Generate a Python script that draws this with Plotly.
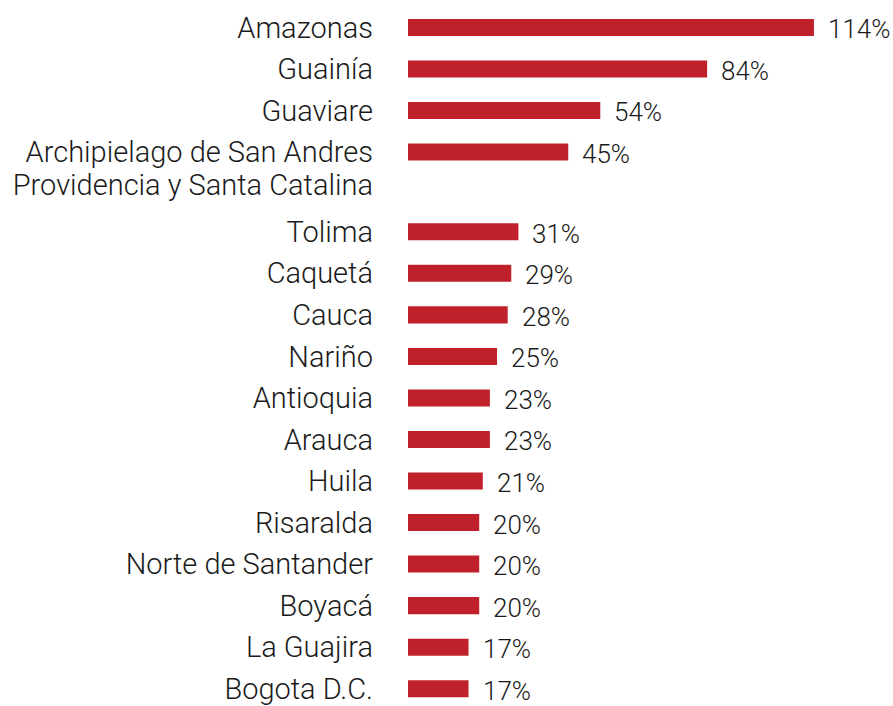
import plotly.graph_objects as go

categories = ["Amazonas", "Guainía", "Guaviare",
              "Archipielago de San Andres<br>Providencia y Santa Catalina",
              "Tolima", "Caquetá", "Cauca", "Nariño", "Antioquia", "Arauca",
              "Huila", "Risaralda", "Norte de Santander", "Boyacá",
              "La Guajira", "Bogota D.C."]
values = [114, 84, 54, 45, 31, 29, 28, 25, 23, 23, 21, 20, 20, 20, 17, 17]

BAR_COLOR = "#C0202A"
TEXT_COLOR = "#1a1a1a"
LABEL_FONT = "Roboto"
LABEL_FS = 29
VALUE_FONT = "Roboto"
VALUE_FS = 26
EXTRA_LINE = 0.92   # extra row space taken by each additional label line
LINE_STEP = 0.79    # vertical distance between label lines, in row units

# compute row positions from the number of label lines
positions = []
tickvals, ticktext = [], []
p = 0.0
for i, c in enumerate(categories):
    lines = c.split("<br>")
    if i > 0:
        prev_n = categories[i - 1].count("<br>") + 1
        p += 1 + (prev_n - 1) * EXTRA_LINE
    positions.append(p)
    for k, line in enumerate(lines):
        tickvals.append(p + k * LINE_STEP)
        ticktext.append(line)

fig = go.Figure(go.Bar(
    x=values, y=positions, orientation="h",
    marker=dict(color=BAR_COLOR, line=dict(width=0)),
    width=0.41,
    hoverinfo="skip",
))

for v, yp in zip(values, positions):
    fig.add_annotation(x=v, y=yp, text=f"{v}%", showarrow=False,
                       xanchor="left", yanchor="middle", xshift=12, yshift=-2,
                       font=dict(family=VALUE_FONT, size=VALUE_FS,
                                 color=TEXT_COLOR, weight=300))

fig.update_layout(
    width=893, height=706,
    margin=dict(l=408, r=0, t=0, b=0),
    paper_bgcolor="white", plot_bgcolor="white",
    showlegend=False,
    font=dict(family=LABEL_FONT, size=LABEL_FS, color=TEXT_COLOR),
    xaxis=dict(range=[0, 136.2], visible=False, fixedrange=True),
    yaxis=dict(range=[16.24, -0.66], tickmode="array",
               tickvals=tickvals, ticktext=ticktext,
               showgrid=False, zeroline=False, showline=False,
               ticks="", ticklabelstandoff=34, ticklabeloverflow="allow",
               tickfont=dict(family=LABEL_FONT, size=LABEL_FS,
                             color=TEXT_COLOR, weight=300)),
)

fig.write_html("out.html")
